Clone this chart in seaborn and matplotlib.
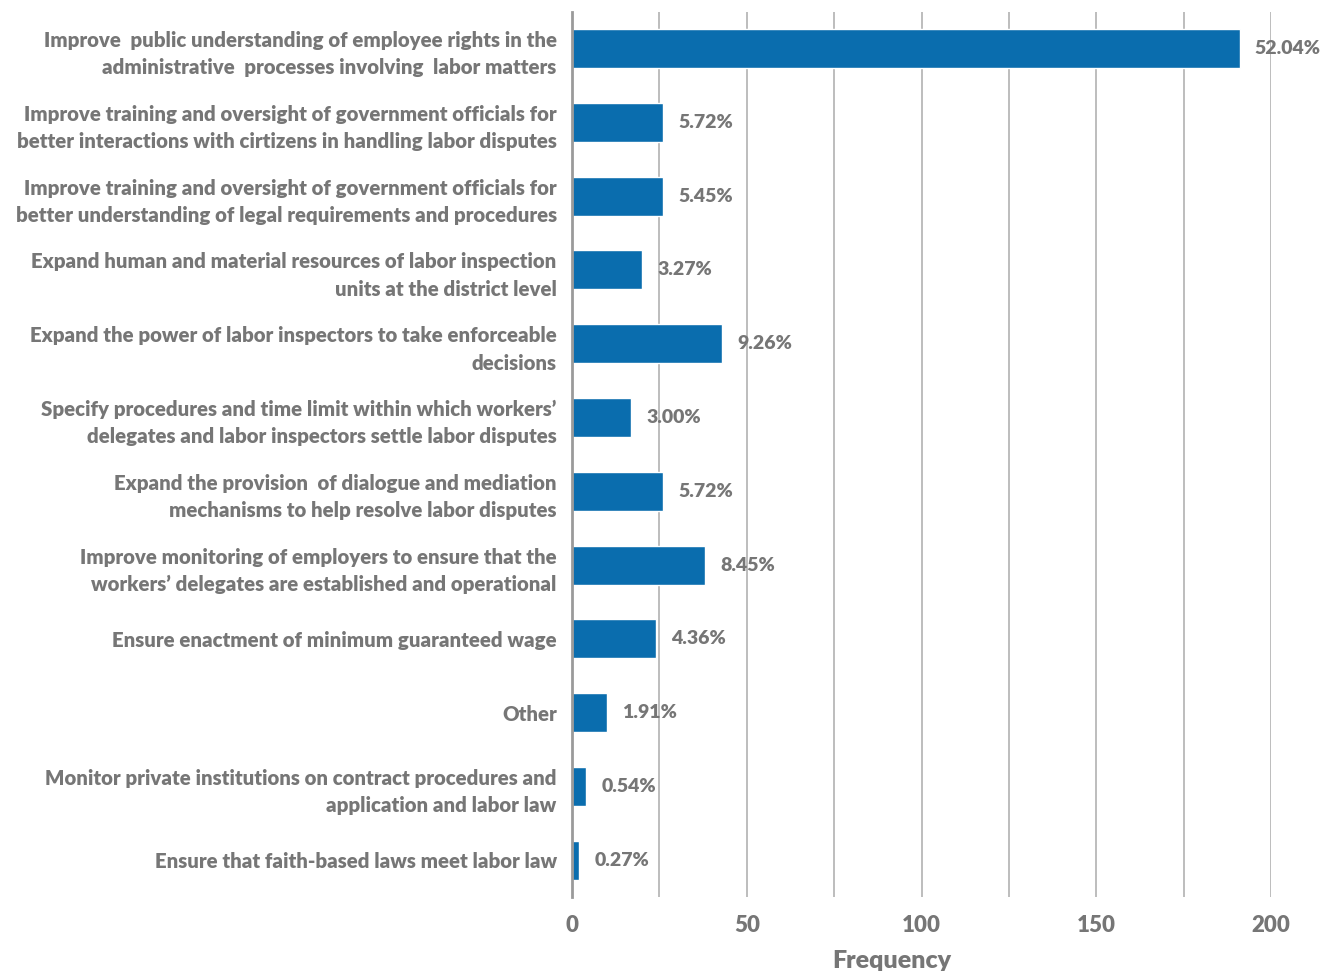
import matplotlib.pyplot as plt
import matplotlib.ticker as mticker
import seaborn as sns
import pandas as pd

# Dados
categorias = [
    "Improve  public understanding of employee rights in the\nadministrative  processes involving  labor matters",
    "Improve training and oversight of government officials for\nbetter interactions with cirtizens in handling labor disputes",
    "Improve training and oversight of government officials for\nbetter understanding of legal requirements and procedures",
    "Expand human and material resources of labor inspection\nunits at the district level",
    "Expand the power of labor inspectors to take enforceable\ndecisions",
    "Specify procedures and time limit within which workers\u2019\ndelegates and labor inspectors settle labor disputes",
    "Expand the provision  of dialogue and mediation\nmechanisms to help resolve labor disputes",
    "Improve monitoring of employers to ensure that the\nworkers\u2019 delegates are established and operational",
    "Ensure enactment of minimum guaranteed wage",
    "Other",
    "Monitor private institutions on contract procedures and\napplication and labor law",
    "Ensure that faith-based laws meet labor law",
]
frequencias = [191, 26, 26, 20, 43, 17, 26, 38, 24, 10, 4, 2]
percentuais = ["52.04%", "5.72%", "5.45%", "3.27%", "9.26%", "3.00%",
               "5.72%", "8.45%", "4.36%", "1.91%", "0.54%", "0.27%"]

df = pd.DataFrame({"Categoria": categorias, "Frequency": frequencias, "Pct": percentuais})

sns.set_theme(style="white")
plt.rcParams['font.family'] = ['Lato', 'DejaVu Sans']
cinza = "#767676"
peso = 800

fig = plt.figure(figsize=(13.34, 9.71), dpi=100)
ax = fig.add_axes([0.4288, 0.076, 0.524, 0.912])

sns.barplot(data=df, x="Frequency", y="Categoria", color="#0A6DAE",
            saturation=1, width=0.53, ax=ax, zorder=3)

# rótulos de percentual
for i, row in df.iterrows():
    ax.annotate(row["Pct"], xy=(row["Frequency"], i), xytext=(11, 0),
                textcoords="offset points", va="center", ha="left",
                fontsize=14, fontweight=peso, color=cinza, zorder=4,
                annotation_clip=False)

ax.set_xlim(0, 200)
ax.set_ylim(11.5, -0.5)
ax.xaxis.set_major_locator(mticker.MultipleLocator(25))
ax.xaxis.set_major_formatter(mticker.FuncFormatter(
    lambda v, p: f"{int(v)}" if v % 50 == 0 else ""))
ax.grid(axis="x", color="#bdbdbd", linewidth=1.4, zorder=0)
ax.grid(axis="y", visible=False)

for s in ["top", "right", "bottom"]:
    ax.spines[s].set_visible(False)
ax.spines["left"].set_color("#9a9a9a")
ax.spines["left"].set_linewidth(2)
ax.spines["left"].set_zorder(5)

ax.tick_params(axis="x", length=0, pad=13, labelsize=16, labelcolor=cinza)
ax.tick_params(axis="y", length=0, pad=11, labelsize=14.7, labelcolor=cinza)
for lab in ax.get_xticklabels() + ax.get_yticklabels():
    lab.set_fontweight(peso)
for lab in ax.get_yticklabels():
    lab.set_multialignment("right")
    lab.set_linespacing(1.52)

ax.set_ylabel("")
ax.set_xlabel("Frequency", fontsize=18, fontweight=peso, color=cinza)
ax.xaxis.set_label_coords(0.458, -0.06)

fig.savefig("out.png", dpi=100)
